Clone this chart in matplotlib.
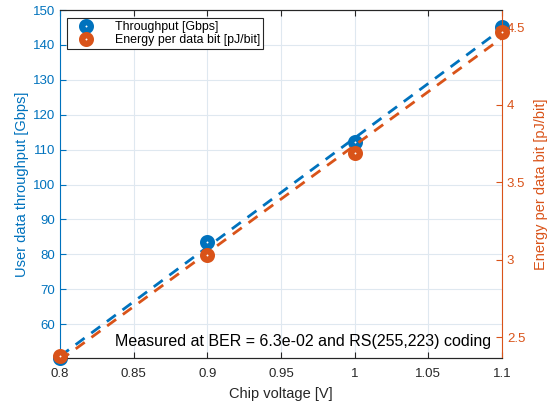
import matplotlib
matplotlib.use("Agg")
from matplotlib import pyplot as plt

plt.rcParams['font.family'] = ['Liberation Sans', 'DejaVu Sans']

# measured points
voltage = [0.8, 0.9, 1.0, 1.1]
throughput = [50.3, 83.6, 112.2, 145.2]      # Gbps
energy = [2.38, 3.03, 3.69, 4.47]            # pJ/bit

# dashed trend lines (end points)
fit_v = [0.8, 1.1]
fit_thr = [50.8, 144.6]
fit_en = [2.35, 4.43]

xticks = [0.8, 0.85, 0.9, 0.95, 1.0, 1.05, 1.1]
xticklabels = ['0.8', '0.85', '0.9', '0.95', '1', '1.05', '1.1']
lticks = [60, 70, 80, 90, 100, 110, 120, 130, 140, 150]
rticks = [2.5, 3, 3.5, 4, 4.5]
rticklabels = ['2.5', '3', '3.5', '4', '4.5']

blue = '#0072BD'
orange = '#D95319'

fig = plt.figure(figsize=(5.47, 4.04), dpi=100)
ax = fig.add_axes([0.1097, 0.1139, 0.8080, 0.8613])
ax2 = ax.twinx()

ax.plot(fit_v, fit_thr, '--', color=blue, lw=2, dashes=(4, 3), zorder=2)
h1, = ax.plot(voltage, throughput, 'o', color=blue, mfc='white', mec=blue,
              ms=6.2, mew=4.6, zorder=3, label='Throughput [Gbps]', clip_on=False)
ax2.plot(fit_v, fit_en, '--', color=orange, lw=2, dashes=(4, 3), zorder=2)
h2, = ax2.plot(voltage, energy, 'o', color=orange, mfc='white', mec=orange,
               ms=6.2, mew=4.6, zorder=3, label='Energy per data bit [pJ/bit]', clip_on=False)

ax.set_xlim(0.8, 1.1)
ax.set_ylim(50.3, 150)
ax2.set_ylim(2.365, 4.61)

ax.set_xticks(xticks)
ax.set_xticklabels(xticklabels)
ax.set_yticks(lticks)
ax2.set_yticks(rticks)
ax2.set_yticklabels(rticklabels)

ax.grid(True, color='#dfe8f0', lw=0.8)
ax.set_axisbelow(True)

ax.tick_params(axis='x', direction='in', top=True, labelsize=9.5, colors='#262626',
               length=4, pad=7)
ax.tick_params(axis='y', direction='in', labelsize=9.5, colors=blue, length=4)
ax2.tick_params(axis='y', direction='in', labelsize=9.5, colors=orange, length=4)

ax.spines['left'].set_color(blue)
ax2.spines['left'].set_visible(False)
ax2.spines['right'].set_color(orange)
ax.spines['right'].set_visible(False)
for s in ['top', 'bottom']:
    ax.spines[s].set_color('#262626')
    ax2.spines[s].set_color('#262626')

ax.set_xlabel('Chip voltage [V]', fontsize=10.5, color='#262626', labelpad=5)
ax.set_ylabel('User data throughput [Gbps]', fontsize=10.5, color=blue, labelpad=3)
ax2.set_ylabel('Energy per data bit [pJ/bit]', fontsize=10.5, color=orange, labelpad=6)

ax2.text(0.965, 2.474, 'Measured at BER = 6.3e-02 and RS(255,223) coding',
         ha='center', va='center', fontsize=11.5, color='black')

leg = ax2.legend(handles=[h1, h2], loc='upper left', fontsize=8.9, frameon=True,
                 fancybox=False, edgecolor='#262626', framealpha=1,
                 bbox_to_anchor=(0.016, 0.977), borderaxespad=0, borderpad=0.25,
                 handletextpad=1.0, labelspacing=0.1, handlelength=2.6)
leg.get_frame().set_linewidth(0.8)

fig.savefig('out.png', dpi=100)
